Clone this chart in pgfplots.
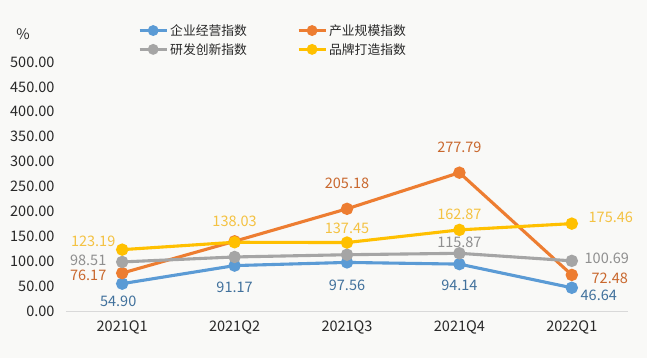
\documentclass[border=0pt]{standalone}
\usepackage{fontspec}
\setmainfont{Noto Sans CJK SC}
\usepackage{pgfplots}
\usepackage{pgfplotstable}
\pgfplotsset{compat=1.18}
\definecolor{cblue}{HTML}{5B9BD5}
\definecolor{corange}{HTML}{ED7D31}
\definecolor{cgray}{HTML}{A5A5A5}
\definecolor{cyellow}{HTML}{FFC000}
\definecolor{lblue}{HTML}{41719C}
\definecolor{lorange}{HTML}{C9682E}
\definecolor{lgray}{HTML}{8F8F8F}
\definecolor{lyellow}{HTML}{F4C242}
\definecolor{bg}{HTML}{F9F9F7}
\definecolor{axln}{HTML}{D9D9D9}
\definecolor{txt}{HTML}{282828}

\pgfplotstableread{
x y lab dx dy
0 54.90 54.90 -4 -17.5
1 91.17 91.17 0 -22
2 97.56 97.56 0 -22.5
3 94.14 94.14 0 -21
4 46.64 46.64 27 -8
}\tblue
\pgfplotstableread{
x y lab dx dy
0 76.17 76.17 -34 -2
2 205.18 205.18 0 25
3 277.79 277.79 0 25
4 72.48 72.48 38 -3
}\torange
\pgfplotstableread{
x y lab dx dy
0 98.51 98.51 -34 2
3 115.87 115.87 0 11
4 100.69 100.69 35 3
}\tgray
\pgfplotstableread{
x y lab dx dy
0 123.19 123.19 -29 8
1 138.03 138.03 0 21
2 137.45 137.45 0 14.5
3 162.87 162.87 0 15.5
4 175.46 175.46 39 6
}\tyellow

\pgfplotsset{
  lbl/.style={draw=none, mark=none, forget plot, nodes near coords,
    point meta=explicit symbolic, nodes near coords align=center,
    visualization depends on={\thisrow{dx}\as\myDX},
    visualization depends on={\thisrow{dy}\as\myDY},
    every node near coord/.append style={text=#1, anchor=center, inner sep=0pt,
      xshift=\myDX pt, yshift=\myDY pt, font=\fontsize{14.5}{14.5}\selectfont}},
  ln/.style={color=#1, line width=3.1pt, mark=*, mark size=4.6pt, mark options={solid}}
}

\begin{document}
\begin{tikzpicture}
\path[use as bounding box, fill=bg] (-66pt,-47pt) rectangle (581pt,311pt);
\begin{axis}[
  at={(0pt,0pt)}, anchor=south west,
  scale only axis, width=562pt, height=249pt,
  xmin=-0.5, xmax=4.5, ymin=0, ymax=500,
  xtick={0,1,2,3,4},
  xticklabels={2021Q1,2021Q2,2021Q3,2021Q4,2022Q1},
  ytick={0,50,...,500},
  axis lines=left,
  axis line style={-},
  y axis line style={draw=none},
  x axis line style={draw=axln, line width=0.8pt},
  major tick length=0pt,
  tick style={draw=none},
  yticklabel style={/pgf/number format/fixed, /pgf/number format/precision=2,
    /pgf/number format/fixed zerofill, /pgf/number format/assume math mode=true,
    font=\fontsize{14.5}{14.5}\selectfont, text=txt, xshift=-8pt},
  xticklabel style={font=\fontsize{14.5}{14.5}\selectfont, text=txt, yshift=-6pt},
  legend columns=2,
  legend style={at={(0.128,1.16)}, anchor=north west, draw=none, fill=none,
    inner sep=0pt, row sep=2.5pt,
    font=\fontsize{12.8}{12.8}\selectfont, text=txt,
    /tikz/every even column/.append style={column sep=48pt}},
  legend cell align=left,
  legend image code/.code={\draw[mark repeat=2,mark phase=2,#1, mark size=3.8pt] plot coordinates {(0pt,0pt) (13.5pt,0pt) (27pt,0pt)};},
  clip=false,
]
\addplot[ln=cblue] table[x=x,y=y]{\tblue};
\addlegendentry{企业经营指数}
\addplot[ln=corange] coordinates {(0,76.17) (1,140.0) (2,205.18) (3,277.79) (4,72.48)};
\addlegendentry{产业规模指数}
\addplot[ln=cgray] coordinates {(0,98.51) (1,108.5) (2,113.0) (3,115.87) (4,100.69)};
\addlegendentry{研发创新指数}
\addplot[ln=cyellow] table[x=x,y=y]{\tyellow};
\addlegendentry{品牌打造指数}

\addplot[lbl=lblue] table[x=x,y=y,meta=lab]{\tblue};
\addplot[lbl=lorange] table[x=x,y=y,meta=lab]{\torange};
\addplot[lbl=lgray] table[x=x,y=y,meta=lab]{\tgray};
\addplot[lbl=lyellow] table[x=x,y=y,meta=lab]{\tyellow};

\node[font=\fontsize{14.5}{14.5}\selectfont, text=txt] at (rel axis cs:-0.0766,1.11) {\%};
\end{axis}
\end{tikzpicture}
\end{document}
